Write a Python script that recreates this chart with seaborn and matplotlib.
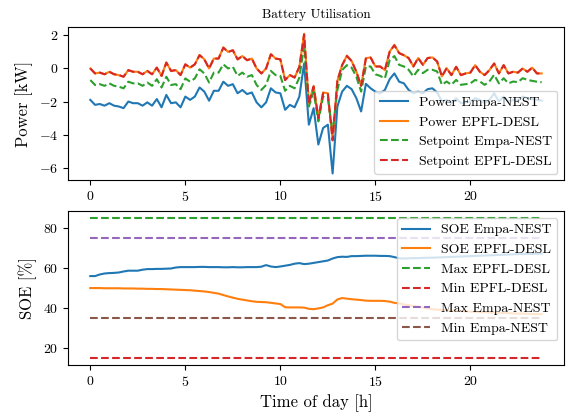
import numpy as np
import pandas as pd
import matplotlib
matplotlib.use("Agg")
import matplotlib.pyplot as plt
import seaborn as sns

# time axis: 15-minute steps over one day
time_h = [i * 0.25 for i in range(96)]

setpoint_desl = [0.0, -0.3, -0.25, -0.35, -0.2, -0.35, -0.4, -0.5, -0.1, -0.2,
                 -0.2, -0.35, -0.15, -0.35, 0.05, -0.45, 0.35, -0.15, -0.1, -0.4,
                 0.25, 0.05, 0.25, 0.8, 0.55, 0.0, 0.6, 0.6, 1.25, 1.0,
                 1.1, 0.55, 0.75, 0.5, 0.6, 0.0, -0.3, 0.0, 0.85, 0.6,
                 0.55, -0.7, -0.4, -0.55, 0.1, 2.05, -2.15, -1.1, -3.0, -1.5,
                 -1.55, -4.35, -0.75, 0.2, 0.75, 0.45, -0.2, -1.05, 0.6, 0.65,
                 0.12, 0.12, -0.1, 1.0, 1.4, 0.93, 0.8, 0.63, 0.12, 0.63,
                 0.22, 0.63, 0.67, 0.42, -0.48, 0.02, -0.4, 0.1, -0.4, -0.3,
                 -0.25, 0.2, -0.2, -0.4, -0.1, 0.3, -0.3, 0.2, -0.3, -0.2,
                 -0.25, 0.0, -0.2, 0.05, -0.3, -0.3]

power_desl = [0.0, -0.3, -0.25, -0.35, -0.2, -0.35, -0.4, -0.5, -0.1, -0.2,
              -0.2, -0.35, -0.15, -0.35, 0.05, -0.45, 0.37, -0.15, -0.1, -0.4,
              0.25, 0.05, 0.25, 0.82, 0.55, 0.0, 0.6, 0.6, 1.28, 1.0,
              1.1, 0.55, 0.75, 0.5, 0.6, 0.0, -0.3, 0.0, 0.87, 0.6,
              0.55, -0.7, -0.4, -0.55, 0.1, 2.1, -2.1, -1.05, -3.0, -1.45,
              -1.5, -4.3, -0.75, 0.2, 0.78, 0.45, -0.2, -1.05, 0.62, 0.67,
              0.12, 0.12, -0.1, 1.02, 1.43, 0.93, 0.8, 0.63, 0.12, 0.63,
              0.22, 0.63, 0.67, 0.42, -0.48, 0.02, -0.4, 0.1, -0.4, -0.3,
              -0.25, 0.2, -0.2, -0.4, -0.1, 0.3, -0.3, 0.2, -0.3, -0.2,
              -0.25, 0.0, -0.2, 0.05, -0.3, -0.3]

setpoint_empa = [-0.7, -1.0, -0.95, -1.05, -0.9, -1.05, -1.1, -1.2, -0.8, -0.9,
                 -0.9, -1.05, -0.85, -1.05, -0.65, -1.15, -0.5, -1.0, -0.95, -1.25,
                 -0.6, -0.8, -0.6, -0.05, -0.3, -0.85, -0.25, -0.25, 0.25, 0.0,
                 0.1, -0.45, -0.25, -0.5, -0.4, -1.0, -1.3, -1.0, -0.15, -0.4,
                 -0.45, -1.35, -1.05, -1.2, -0.55, 1.4, -2.3, -1.4, -3.2, -1.7,
                 -1.8, -3.9, -1.3, -0.1, 0.2, 0.05, -0.5, -1.4, 0.12, 0.12,
                 -0.35, -0.45, -0.6, 0.5, 0.75, 0.22, 0.12, -0.08, -0.48, -0.08,
                 -0.28, -0.08, -0.08, -0.18, -0.99, -0.79, -0.99, -0.69, -0.99, -0.95,
                 -0.9, -0.69, -0.79, -0.99, -0.79, -0.38, -0.9, -0.59, -0.9, -0.79,
                 -0.83, -0.59, -0.69, -0.75, -0.8, -0.83]

power_empa = [-1.9, -2.2, -2.15, -2.25, -2.1, -2.25, -2.3, -2.4, -2.0, -2.1,
              -2.1, -2.25, -2.05, -2.25, -1.85, -2.35, -1.6, -2.1, -2.05, -2.35,
              -1.7, -1.9, -1.7, -1.15, -1.4, -1.95, -1.35, -1.35, -0.8, -1.05,
              -0.95, -1.5, -1.3, -1.55, -1.45, -2.05, -2.35, -2.05, -1.2, -1.45,
              -1.5, -2.5, -2.2, -2.35, -1.7, 0.3, -3.4, -2.4, -4.6, -3.6,
              -3.4, -6.35, -2.3, -1.4, -1.05, -1.25, -1.8, -2.6, -0.93, -1.2,
              -1.4, -1.5, -1.3, -0.65, -0.3, -0.8, -0.9, -1.3, -1.5, -1.4,
              -1.5, -1.25, -1.2, -1.45, -2.0, -1.9, -2.1, -1.8, -2.1, -2.05,
              -2.0, -1.8, -1.9, -2.1, -1.9, -1.5, -2.0, -1.7, -2.0, -1.9,
              -1.95, -1.7, -1.8, -1.85, -1.9, -1.95]

soe_empa = [56.0, 56.0, 56.8, 57.3, 57.5, 57.6, 57.8, 58.3, 58.7, 58.7,
            58.7, 59.2, 59.5, 59.5, 59.6, 59.6, 59.7, 59.8, 60.3, 60.5,
            60.5, 60.5, 60.5, 60.6, 60.6, 60.5, 60.5, 60.5, 60.4, 60.4,
            60.5, 60.4, 60.4, 60.5, 60.5, 60.5, 60.7, 61.5, 60.8, 60.5,
            60.8, 61.2, 61.6, 62.2, 62.5, 62.0, 62.2, 62.6, 63.0, 63.4,
            63.8, 64.8, 65.5, 65.7, 65.6, 66.0, 66.0, 66.1, 66.2, 66.2,
            66.2, 66.1, 66.1, 66.0, 65.5, 64.9, 64.8, 64.9, 65.0, 65.0,
            65.1, 65.2, 65.2, 65.3, 65.4, 65.5, 65.6, 65.7, 65.8, 65.9,
            66.0, 66.1, 66.2, 66.3, 66.4, 66.5, 66.6, 66.7, 66.8, 66.9,
            67.0, 67.0, 67.1, 67.1, 67.2, 67.2]

soe_desl = [50.0, 50.0, 50.0, 49.9, 49.9, 49.9, 49.9, 49.8, 49.8, 49.8,
            49.7, 49.7, 49.6, 49.6, 49.5, 49.5, 49.4, 49.3, 49.2, 49.1,
            49.0, 48.9, 48.7, 48.5, 48.3, 48.0, 47.6, 47.2, 46.5, 45.8,
            45.2, 44.6, 44.2, 43.8, 43.4, 43.1, 43.0, 42.9, 42.6, 42.3,
            42.0, 40.4, 40.3, 40.3, 40.3, 40.2, 39.6, 39.4, 39.8, 40.3,
            41.4, 42.2, 44.3, 45.0, 44.7, 44.4, 44.2, 44.0, 43.7, 43.6,
            43.6, 43.6, 43.5, 43.2, 42.6, 42.3, 41.8, 41.4, 41.0, 40.6,
            40.2, 39.8, 39.4, 39.2, 39.0, 38.9, 38.7, 38.6, 38.5, 38.3,
            38.2, 38.1, 38.0, 37.9, 37.8, 37.7, 37.6, 37.5, 37.4, 37.3,
            37.2, 37.2, 37.1, 37.0, 37.0, 36.9]

max_desl = 85
min_desl = 15
max_empa = 75
min_empa = 35

plt.rcParams['font.family'] = ['cmr10', 'DejaVu Serif']
plt.rcParams['mathtext.fontset'] = 'cm'
plt.rcParams['axes.formatter.use_mathtext'] = True
plt.rcParams['axes.unicode_minus'] = True

fig, (ax1, ax2) = plt.subplots(2, 1, figsize=(5.74, 4.18), dpi=100)
fig.subplots_adjust(left=0.118, right=0.983, top=0.936, bottom=0.127, hspace=0.2)

t = np.array(time_h)
ones = np.ones_like(t)

sns.lineplot(x=t, y=power_empa, ax=ax1, color='#1f77b4', label='Power Empa-NEST')
sns.lineplot(x=t, y=power_desl, ax=ax1, color='#ff7f0e', label='Power EPFL-DESL')
sns.lineplot(x=t, y=setpoint_empa, ax=ax1, color='#2ca02c', linestyle='--', label='Setpoint Empa-NEST')
sns.lineplot(x=t, y=setpoint_desl, ax=ax1, color='#d62728', linestyle='--', label='Setpoint EPFL-DESL')
ax1.set_title('Battery Utilisation', fontsize=9.5)
ax1.set_ylabel('Power [kW]', fontsize=12)
ax1.legend(loc='lower right', fontsize=10)

sns.lineplot(x=t, y=soe_empa, ax=ax2, color='#1f77b4', label='SOE Empa-NEST')
sns.lineplot(x=t, y=soe_desl, ax=ax2, color='#ff7f0e', label='SOE EPFL-DESL')
sns.lineplot(x=t, y=ones * max_desl, ax=ax2, color='#2ca02c', linestyle='--', label='Max EPFL-DESL')
sns.lineplot(x=t, y=ones * min_desl, ax=ax2, color='#d62728', linestyle='--', label='Min EPFL-DESL')
sns.lineplot(x=t, y=ones * max_empa, ax=ax2, color='#9467bd', linestyle='--', label='Max Empa-NEST')
sns.lineplot(x=t, y=ones * min_empa, ax=ax2, color='#8c564b', linestyle='--', label='Min Empa-NEST')
ax2.set_ylabel('SOE [%]', fontsize=12)
ax2.set_xlabel('Time of day [h]', fontsize=12)
ax2.legend(loc='upper right', fontsize=10)

for ax in (ax1, ax2):
    ax.set_xticks([0, 5, 10, 15, 20])
    ax.tick_params(labelsize=10)

fig.savefig('out.png', dpi=100)
